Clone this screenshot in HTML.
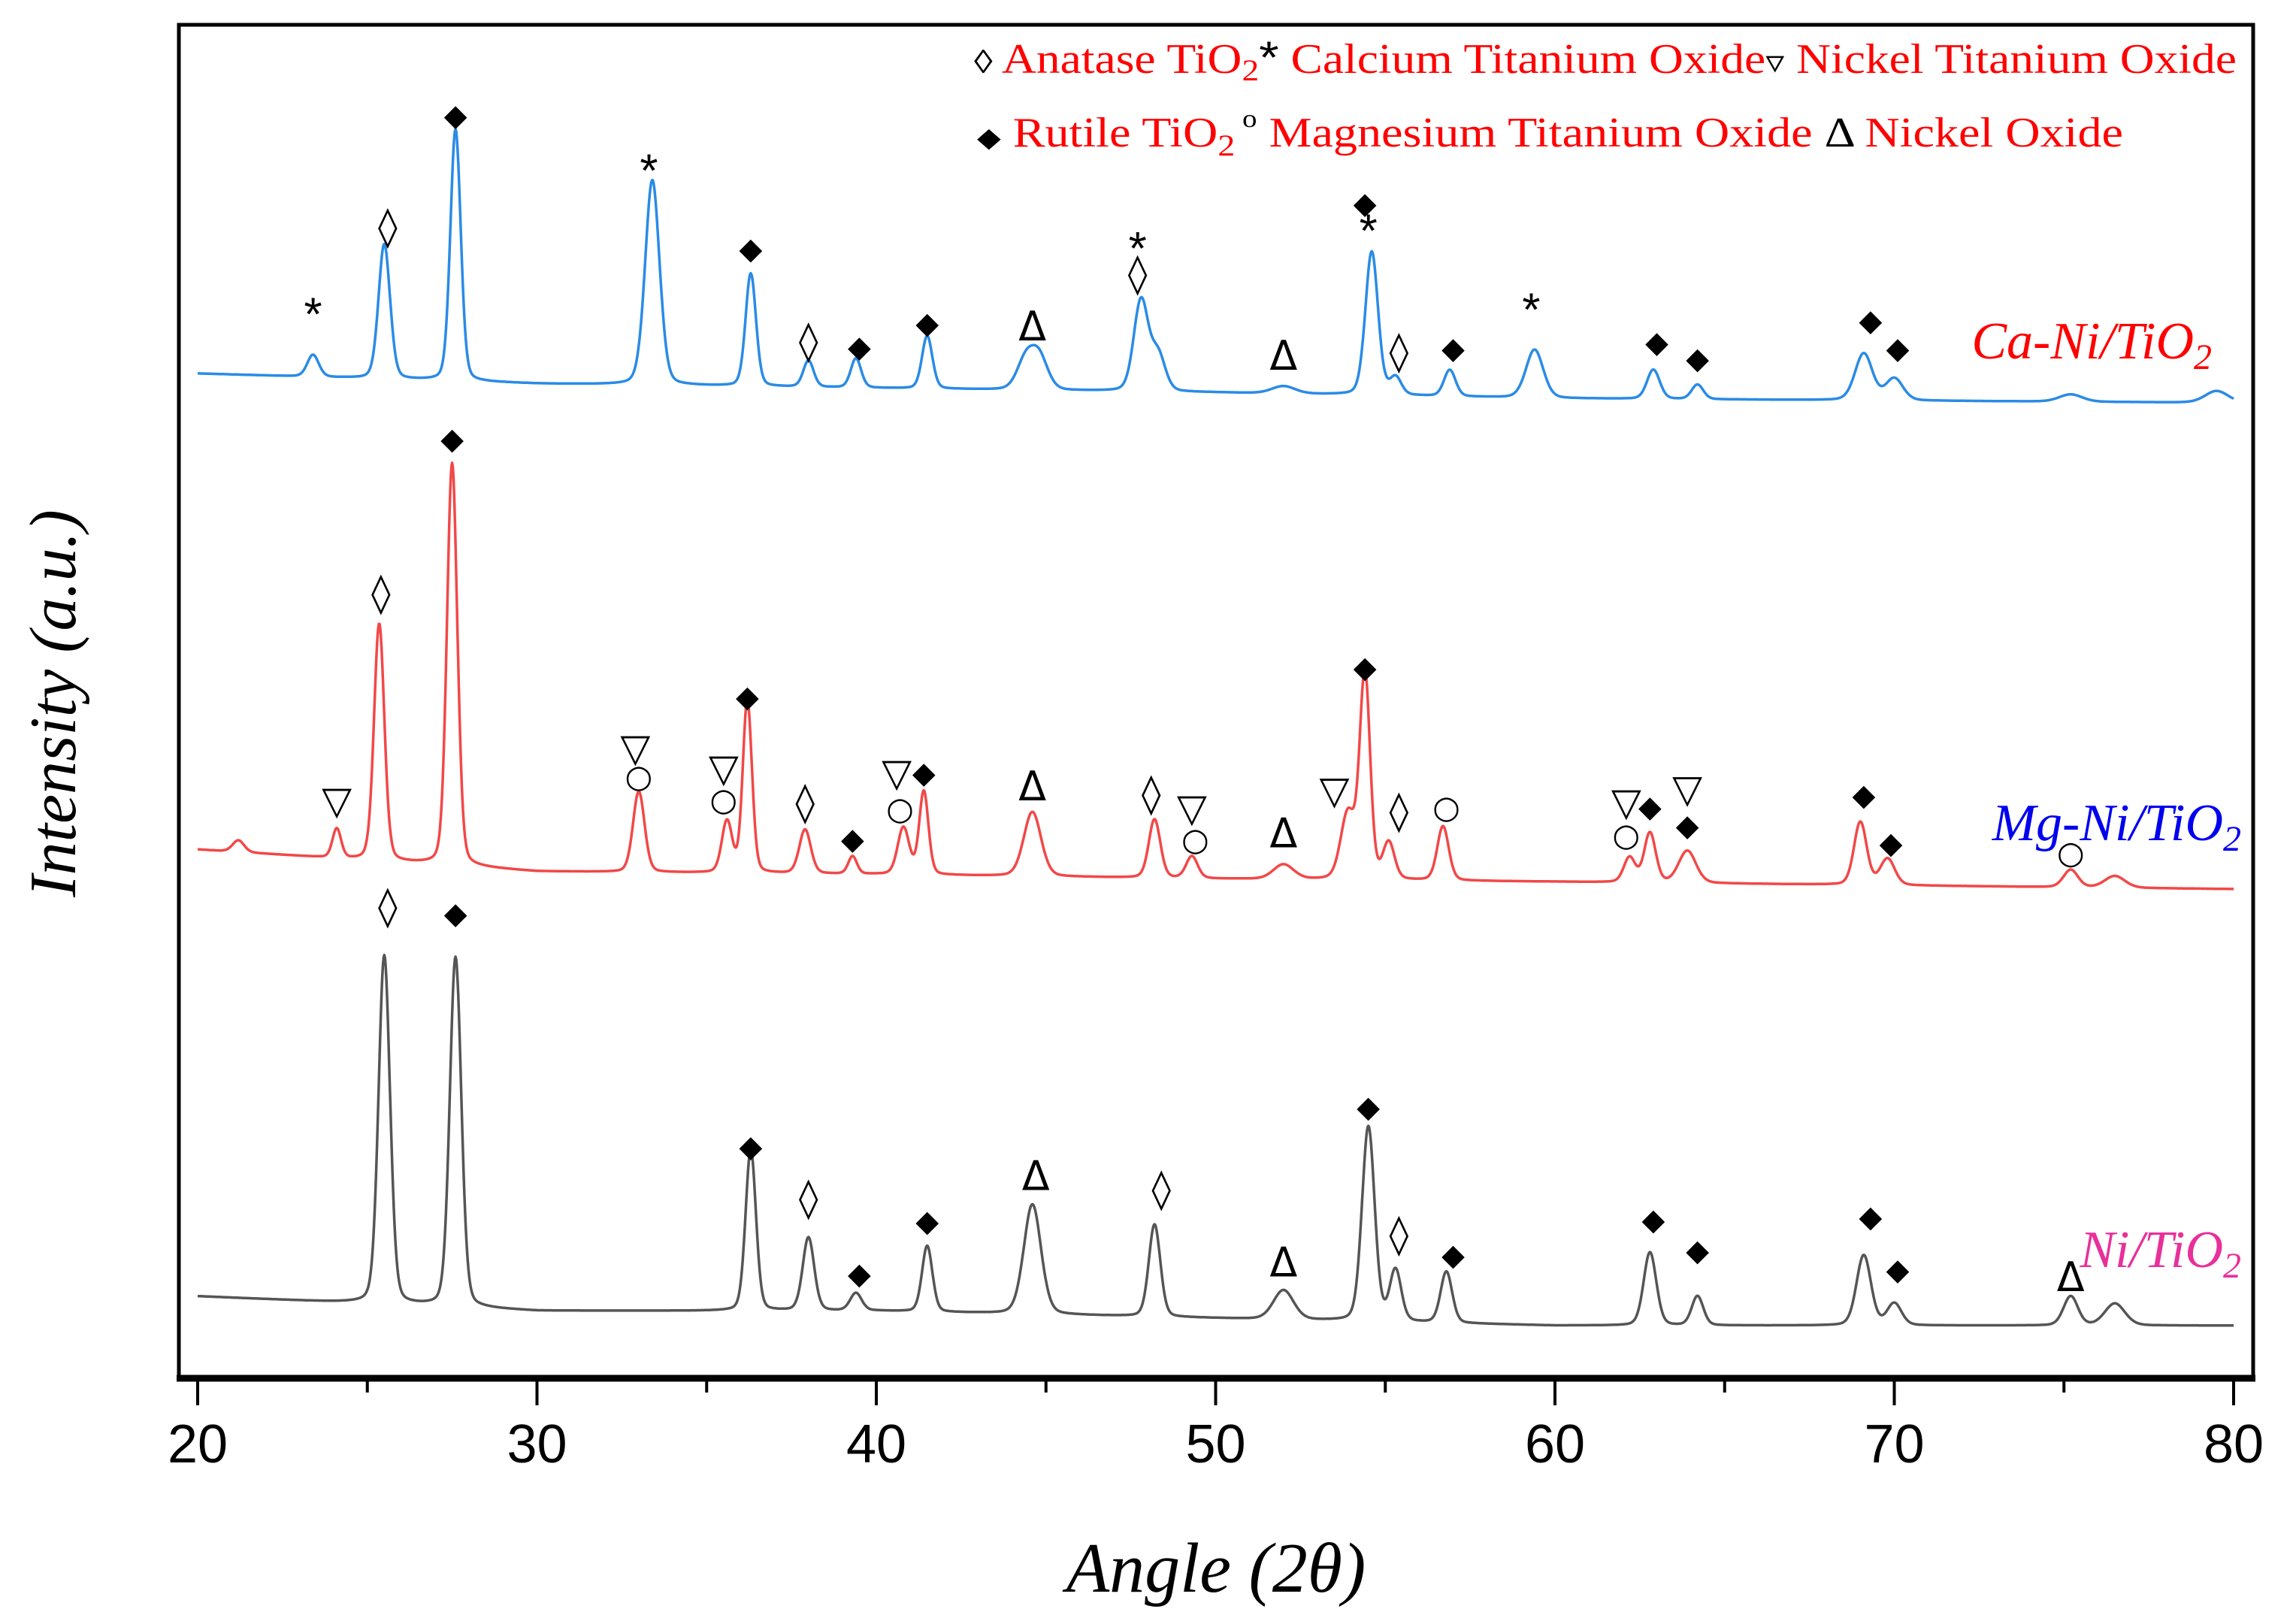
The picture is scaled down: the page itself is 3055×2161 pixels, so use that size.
<!DOCTYPE html>
<html><head><meta charset="utf-8"><style>
html,body{margin:0;padding:0;background:#fff;}
svg{display:block;}
</style></head><body>
<svg id="chart" width="3055" height="2161" viewBox="0 0 3055 2161" xmlns="http://www.w3.org/2000/svg">
<rect x="0" y="0" width="3055" height="2161" fill="#fff"/>
<rect x="238" y="33" width="2760" height="1800" fill="none" stroke="#000" stroke-width="5"/>
<line x1="235" y1="1834" x2="3001" y2="1834" stroke="#000" stroke-width="9"/>
<g id="ticks"></g>
<g id="series"></g>
<g id="markers"></g>
<g font-family="Liberation Serif, serif" font-size="56" fill="#f00">
 <text x="1296" y="97" textLength="1680" lengthAdjust="spacingAndGlyphs"><tspan fill="#000" font-size="44">◊</tspan> Anatase TiO<tspan font-size="40" dy="10">2</tspan><tspan dy="-10" fill="#000" font-size="60" font-family="Liberation Sans, sans-serif">*</tspan> Calcium Titanium Oxide<tspan fill="#000" font-size="44">▿</tspan> Nickel Titanium Oxide</text>
 <text x="1300" y="195" textLength="1525" lengthAdjust="spacingAndGlyphs"><tspan fill="#000" font-size="36">◆</tspan> Rutile TiO<tspan font-size="40" dy="12">2</tspan><tspan dy="-38" fill="#000" font-size="34"> o</tspan><tspan dy="26"> Magnesium Titanium Oxide </tspan><tspan fill="#000" font-size="56">Δ</tspan> Nickel Oxide</text>
</g>
<g font-family="Liberation Serif, serif" font-style="italic" font-size="70">
 <text x="2943" y="477" text-anchor="end" fill="#f00">Ca-Ni/TiO<tspan font-size="48" dy="14">2</tspan></text>
 <text x="2982" y="1118" text-anchor="end" fill="#0000ee">Mg-Ni/TiO<tspan font-size="48" dy="14">2</tspan></text>
 <text x="2982" y="1686" text-anchor="end" fill="#e8309a">Ni/TiO<tspan font-size="48" dy="14">2</tspan></text>
</g>
<text transform="translate(100,936) rotate(-90)" text-anchor="middle" font-family="Liberation Serif, serif" font-style="italic" font-size="88">Intensity (a.u.)</text>
<text x="1618" y="2118" text-anchor="middle" font-family="Liberation Serif, serif" font-style="italic" font-size="94">Angle (2θ)</text>
</svg>
<script>
const xTicks=[20,30,40,50,60,70,80];
const xMinor=[25,35,45,55,65,75];
// Ni/TiO2 (values in intensity units)
const niBaseX=[20,30,40,50,60,80];
const niBaseY=[56,46,46,41,36,36];
const niPeakPos=[25.5,27.6,36.3,38.0,39.4,41.5,44.6,48.2,52.0,54.5,55.3,56.8,62.8,64.2,69.1,70.0,75.2,76.5];
const niPeakH=[238,239,110,50,12,45,75,63,20,133,35,35,50,20,48,15,20,15];
const niPeakW=[0.2,0.2,0.18,0.2,0.2,0.18,0.3,0.2,0.35,0.22,0.2,0.2,0.22,0.2,0.25,0.25,0.25,0.35];
// Mg-Ni/TiO2
const mgBaseX=[20,30,40,50,60,80];
const mgBaseY=[361,346,344,341,339,334];
const mgPeakPos=[21.2,24.1,25.35,27.5,33.0,35.6,36.2,37.9,39.3,40.8,41.4,44.6,48.2,49.3,52.0,53.9,54.4,55.1,56.7,62.2,62.8,63.9,69.0,69.8,75.2,76.5];
const mgPeakH=[8,20,162,275,55,35,118,30,12,32,57,44,40,15,10,45,140,25,37,17,34,22,43,18,12,8];
const mgPeakW=[0.2,0.15,0.18,0.18,0.2,0.18,0.16,0.2,0.15,0.2,0.16,0.3,0.2,0.2,0.35,0.25,0.18,0.2,0.2,0.2,0.2,0.3,0.22,0.25,0.25,0.35];
// Ca-Ni/TiO2
const caBaseX=[20,30,40,50,60,80];
const caBaseY=[686,679,676,673,669,666];
const caPeakPos=[23.4,25.5,27.6,33.4,36.3,38.0,39.4,41.5,44.4,44.8,47.8,48.3,52.0,54.6,55.3,56.9,59.4,62.9,64.2,69.1,70.0,75.2,79.5];
const caPeakH=[15,92,172,140,77,18,20,36,20,22,62,25,5,98,12,18,33,20,10,32,15,5,8];
const caPeakW=[0.2,0.2,0.18,0.25,0.18,0.18,0.18,0.18,0.3,0.3,0.25,0.25,0.4,0.22,0.2,0.2,0.3,0.22,0.2,0.3,0.3,0.4,0.4];
// annotation markers: [angle, intensity, symbol]
const markAngles=[23.4,25.6,27.6,33.3,36.3,38.0,39.5,41.5,44.6,47.7,47.7,52.0,54.4,54.5,55.4,57.0,59.3,63.0,64.2,69.3,70.1,
 24.1,25.4,27.5,32.9,33.0,35.5,35.5,36.2,37.9,39.3,40.6,40.7,41.4,44.6,48.1,49.3,49.4,52.0,53.5,54.4,55.4,56.8,62.1,62.1,62.8,63.9,63.9,69.1,69.9,75.2,
 25.6,27.6,36.3,38.0,39.5,41.5,44.7,48.4,52.0,54.5,55.4,57.0,62.9,64.2,69.3,70.1,75.2];
const markInts=[726,786,862,824,771,708,704,720,718,771,754,698,802,783,701,703,729,707,696,722,703,
 394,536,641,430,411,416,395,465,393,368,413,389,413,404,399,389,368,372,401,485,387,390,393,371,390,402,377,398,365,359,
 322,317,158,123,71,107,138,129,79,185,98,84,108,87,110,74,69];
const markSyms=['*','◊','◆','*','◆','◊','◆','◆','Δ','*','◊','Δ','◆','*','◊','◆','*','◆','◆','◆','◆',
 '▽','◊','◆','▽','○','▽','○','◆','◊','◆','▽','○','◆','Δ','◊','▽','○','Δ','▽','◆','◊','○','▽','○','◆','▽','◆','◆','◆','○',
 '◊','◆','◆','◊','◆','◆','Δ','◊','Δ','◆','◊','◆','◆','◆','◆','◆','Δ'];

const X0=263,X1=2972,YB=1834,K=1.949;
const xs=a=>X0+(a-20)/60*(X1-X0);
const ys=v=>YB-v*K;
const NS='http://www.w3.org/2000/svg';
function mk(tag,attrs,parent){const e=document.createElementNS(NS,tag);for(const k in attrs)e.setAttribute(k,attrs[k]);parent.appendChild(e);return e;}
const tg=document.getElementById('ticks');
xTicks.forEach(t=>{
 const l=mk('line',{x1:xs(t),x2:xs(t),y1:1834,y2:1870,stroke:'#000','stroke-width':4},tg);
 
 
 const tx=mk('text',{x:xs(t),y:1946,'text-anchor':'middle','font-family':'Liberation Sans, sans-serif','font-size':72},tg);
 tx.textContent=t;
 
 
});
xMinor.forEach(t=>{
 const l=mk('line',{x1:xs(t),x2:xs(t),y1:1834,y2:1853,stroke:'#000','stroke-width':4},tg);
 
 
});
function interp(bx,by,a){for(let i=0;i<bx.length-1;i++){if(a<=bx[i+1]){const f=(a-bx[i])/(bx[i+1]-bx[i]);return by[i]+f*(by[i+1]-by[i]);}}return by[by.length-1];}
function curve(bx,by,pp,ph,pw,color,name){
 let d='';
 for(let a=20;a<=80.0001;a+=0.02){
  let v=interp(bx,by,a);
  for(let i=0;i<pp.length;i++){const z=(a-pp[i])/pw[i];v+=ph[i]*(0.8*Math.exp(-0.693*z*z)+0.2/(1+z*z));}
  d+=(d?'L':'M')+xs(a).toFixed(1)+','+ys(v).toFixed(1);
 }
 const p=mk('path',{d:d,fill:'none',stroke:color,'stroke-width':3.5,'stroke-linejoin':'round'},document.getElementById('series'));
 
 
}
curve(niBaseX,niBaseY,niPeakPos,niPeakH,niPeakW,'#555','ni-tio2-line');
curve(mgBaseX,mgBaseY,mgPeakPos,mgPeakH,mgPeakW,'#f24848','mg-ni-tio2-line');
curve(caBaseX,caBaseY,caPeakPos,caPeakH,caPeakW,'#2a8be6','ca-ni-tio2-line');
const mg=document.getElementById('markers');
const sz={'*':62,'◊':52,'◆':40,'Δ':54,'▽':52,'○':42};
markAngles.forEach((a,i)=>{
 const s=markSyms[i];
 const t=mk('text',{x:xs(a),y:ys(markInts[i]),'text-anchor':'middle','dominant-baseline':'central','font-family':s==='*'?'Liberation Sans, sans-serif':'DejaVu Sans, sans-serif','font-size':sz[s]},mg);
 t.textContent=s;
 
 
});
</script>
</body></html>
